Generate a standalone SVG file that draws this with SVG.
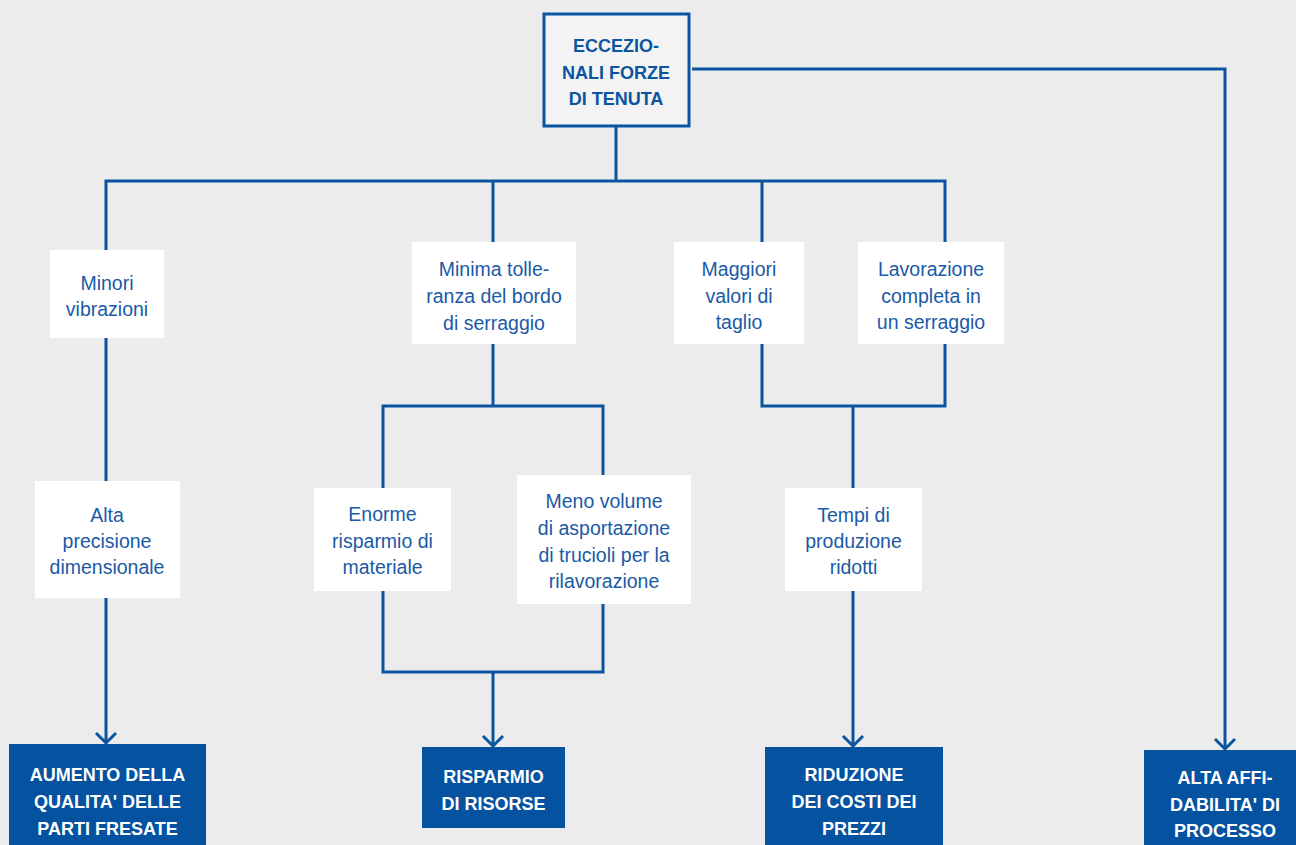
<svg xmlns="http://www.w3.org/2000/svg" width="1296" height="845" viewBox="0 0 1296 845">
<style>
  .bg { fill: #ececec; }
  .ln { fill: none; stroke: #0a54a0; stroke-width: 3; }
  .wbox { fill: #ffffff; }
  .tbox { fill: #f3f3f4; stroke: #0a54a0; stroke-width: 3; }
  .bbox { fill: #0452a0; }
  .t { font-family: "Liberation Sans", Arial, sans-serif; font-size: 19.5px; fill: #1a5aa6; text-anchor: middle; }
  .tb { font-family: "Liberation Sans", Arial, sans-serif; font-size: 18px; font-weight: bold; fill: #0a54a0; text-anchor: middle; }
  .tw { font-family: "Liberation Sans", Arial, sans-serif; font-size: 18px; font-weight: bold; fill: #ffffff; text-anchor: middle; }
</style>
<defs>
  <marker id="arr" markerUnits="userSpaceOnUse" markerWidth="26" markerHeight="26" viewBox="-13 -13 26 26" refX="0" refY="0" orient="auto" overflow="visible">
    <path d="M-10,-10 L0,0 L-10,10" fill="none" stroke="#0a54a0" stroke-width="3"/>
  </marker>
</defs>
<rect class="bg" x="0" y="0" width="1296" height="845"/>

<g id="connectors">
  <line class="ln" x1="616" y1="126" x2="616" y2="181"/>
  <polyline class="ln" points="106,250 106,181 945,181 945,242"/>
  <line class="ln" x1="493" y1="181" x2="493" y2="242"/>
  <line class="ln" x1="762" y1="181" x2="762" y2="242"/>
  <line class="ln" x1="106" y1="338" x2="106" y2="481"/>
  <line class="ln" x1="106" y1="598" x2="106" y2="743" marker-end="url(#arr)"/>
  <line class="ln" x1="493" y1="344" x2="493" y2="406"/>
  <polyline class="ln" points="383,488 383,406 603,406 603,475"/>
  <polyline class="ln" points="383,591 383,672 603,672 603,604"/>
  <line class="ln" x1="493" y1="672" x2="493" y2="746" marker-end="url(#arr)"/>
  <polyline class="ln" points="762,344 762,406 945,406 945,344"/>
  <line class="ln" x1="853" y1="406" x2="853" y2="488"/>
  <line class="ln" x1="853" y1="591" x2="853" y2="746" marker-end="url(#arr)"/>
  <polyline class="ln" points="692,69 1225,69 1225,749" marker-end="url(#arr)"/>
</g>

<g id="n-top">
  <rect class="tbox" x="544" y="14" width="145" height="112"/>
  <text class="tb" x="616" y="52">ECCEZIO-</text>
  <text class="tb" x="616" y="79">NALI FORZE</text>
  <text class="tb" x="616" y="105">DI TENUTA</text>
</g>

<g id="n-minori">
  <rect class="wbox" x="50" y="250" width="114" height="88"/>
  <text class="t" x="107" y="290">Minori</text>
  <text class="t" x="107" y="316">vibrazioni</text>
</g>

<g id="n-minima">
  <rect class="wbox" x="412" y="242" width="164" height="102"/>
  <text class="t" x="494" y="276">Minima tolle-</text>
  <text class="t" x="494" y="303">ranza del bordo</text>
  <text class="t" x="494" y="330">di serraggio</text>
</g>

<g id="n-maggiori">
  <rect class="wbox" x="674" y="242" width="130" height="102"/>
  <text class="t" x="739" y="276">Maggiori</text>
  <text class="t" x="739" y="302.5">valori di</text>
  <text class="t" x="739" y="329">taglio</text>
</g>

<g id="n-lavorazione">
  <rect class="wbox" x="858" y="242" width="146" height="102"/>
  <text class="t" x="931" y="276">Lavorazione</text>
  <text class="t" x="931" y="302.5">completa in</text>
  <text class="t" x="931" y="329">un serraggio</text>
</g>

<g id="n-alta-precisione">
  <rect class="wbox" x="35" y="481" width="145" height="117"/>
  <text class="t" x="107" y="521.5">Alta</text>
  <text class="t" x="107" y="547.5">precisione</text>
  <text class="t" x="107" y="574">dimensionale</text>
</g>

<g id="n-enorme">
  <rect class="wbox" x="314" y="488" width="137" height="103"/>
  <text class="t" x="382.5" y="521">Enorme</text>
  <text class="t" x="382.5" y="547.5">risparmio di</text>
  <text class="t" x="382.5" y="574">materiale</text>
</g>

<g id="n-meno">
  <rect class="wbox" x="517" y="475" width="174" height="129"/>
  <text class="t" x="604" y="508">Meno volume</text>
  <text class="t" x="604" y="535">di asportazione</text>
  <text class="t" x="604" y="561.5">di trucioli per la</text>
  <text class="t" x="604" y="588">rilavorazione</text>
</g>

<g id="n-tempi">
  <rect class="wbox" x="785" y="488" width="137" height="103"/>
  <text class="t" x="853.5" y="521.5">Tempi di</text>
  <text class="t" x="853.5" y="547.5">produzione</text>
  <text class="t" x="853.5" y="574">ridotti</text>
</g>

<g id="n-aumento">
  <rect class="bbox" x="9" y="744" width="197" height="101"/>
  <text class="tw" x="107.5" y="781">AUMENTO DELLA</text>
  <text class="tw" x="107.5" y="808">QUALITA' DELLE</text>
  <text class="tw" x="107.5" y="835">PARTI FRESATE</text>
</g>

<g id="n-risparmio">
  <rect class="bbox" x="422" y="747" width="143" height="81"/>
  <text class="tw" x="493.5" y="783">RISPARMIO</text>
  <text class="tw" x="493.5" y="810">DI RISORSE</text>
</g>

<g id="n-riduzione">
  <rect class="bbox" x="765" y="747" width="178" height="98"/>
  <text class="tw" x="854" y="781">RIDUZIONE</text>
  <text class="tw" x="854" y="808">DEI COSTI DEI</text>
  <text class="tw" x="854" y="835">PREZZI</text>
</g>

<g id="n-affidabilita">
  <rect class="bbox" x="1144" y="750" width="152" height="95"/>
  <text class="tw" x="1225" y="784">ALTA AFFI-</text>
  <text class="tw" x="1225" y="811">DABILITA' DI</text>
  <text class="tw" x="1225" y="837">PROCESSO</text>
</g>
</svg>
